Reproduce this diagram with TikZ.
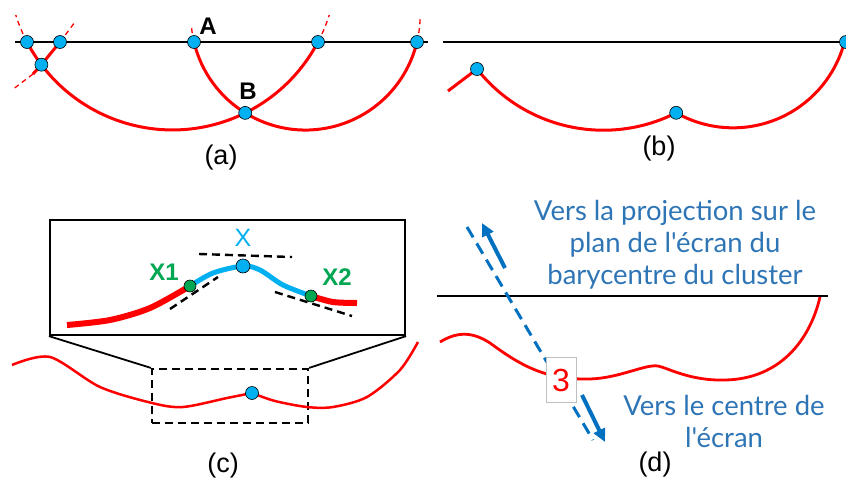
\documentclass[tikz,border=0pt]{standalone}
\usepackage{fontspec}
\setmainfont{Liberation Sans}
\newfontfamily\notefont{Lato}
\usetikzlibrary{arrows.meta}

\definecolor{dotblue}{RGB}{0,176,240}
\definecolor{dotgreen}{RGB}{0,166,81}
\definecolor{arrowblue}{RGB}{0,112,192}
\definecolor{noteblue}{RGB}{46,117,182}

\tikzset{
    dot/.style={circle, draw=black, line width=0.6pt, fill=dotblue,
      inner sep=0pt, minimum size=13pt},
    gdot/.style={dot, fill=dotgreen, minimum size=12pt},
    curve/.style={draw=red, line width=3pt},
    ghost/.style={draw=red, line width=1.3pt, dash pattern=on 5pt off 4pt},
    screen/.style={draw=black, line width=2.2pt},
    tangent/.style={draw=black, line width=2.4pt, dash pattern=on 8pt off 5pt},
    caption/.style={font=\fontsize{27}{30}\selectfont},
    tag/.style={font=\bfseries\fontsize{24}{24}\selectfont},
    note/.style={text=noteblue, align=center,
      font=\notefont\fontsize{27.5}{32}\selectfont},
    dir/.style={draw=arrowblue, line width=4pt,
      -{Triangle[length=13pt,width=12pt]}}
  }

\begin{document}
\begin{tikzpicture}[x=1pt,y=-1pt]
    \useasboundingbox (0,0) rectangle (846,482);

    % (a) two arcs on the screen line
    \coordinate (p1) at (27,42);
    \coordinate (p2) at (60,42);
    \coordinate (p3) at (41.4,64.7);
    \coordinate (A) at (194,42);
    \coordinate (p4) at (318,42);
    \coordinate (p5) at (417,42);
    \coordinate (B) at (245.2,112.9);

    \draw[screen] (15,42) coordinate (s1) -- (428,42) coordinate (s2);
    \draw[curve] (p1) arc[start angle=152.3, end angle=27.7, radius=164.3];
    \draw[ghost] (p1) arc[start angle=152.3, end angle=162.5, radius=164.3];
    \draw[ghost] (p4) arc[start angle=27.7, end angle=17.5, radius=164.3];
    \draw[curve] (A) arc[start angle=166.6, end angle=13.4, radius=114.6];
    \draw[ghost] (A) arc[start angle=166.6, end angle=175.2, radius=114.6];
    \draw[ghost] (p5) arc[start angle=13.4, end angle=0, radius=114.6];
    \draw[curve] (p2) -- (p3) -- (33,74) coordinate (p6);
    \draw[ghost] (p6) -- (12,90);
    \draw[ghost] (p2) -- (75,22);

    \foreach \p in {p1,p2,p3,A,p4,p5,B} {
      \node[dot] (d\p) at (\p) {};
    }
    \node[tag] (lA) at (208,26) {A};
    \node[tag] (lB) at (248,91) {B};
    \node[caption] (ca) at (221,158) {(a)};

    % (b) the kept path
    \draw[screen] (443,42) -- (846,42);
    \draw[curve] (448,91) -- (477,69) coordinate (q1)
      arc[start angle=141.7, end angle=63.1, radius=161] coordinate (q2)
      arc[start angle=119.6, end angle=13.7, radius=115.2] coordinate (q3);
    \foreach \q in {q1,q2} {
      \node[dot] (d\q) at (\q) {};
    }
    \node[dot] (dq3) at (846,42) {};
    \node[caption] (cb) at (659,149) {(b)};

    % (c) zoom on a local maximum
    \node[screen, minimum width=355pt, minimum height=115pt] (zoom) at (227.5,277.5) {};
    \node[screen, dash pattern=on 8pt off 5pt, minimum width=156pt,
      minimum height=54pt] (window) at (230,396) {};
    \draw[line width=1.8pt] (zoom.south west) -- (window.north west);
    \draw[line width=1.8pt] (zoom.south east) -- (window.north east);

    \coordinate (m) at (252,393);
    \draw[draw=red, line width=2.5pt] plot[smooth] coordinates {(12,365) (50,357)
      (100,387) (152,403) (183,407) (227,398) (m)};
    \draw[draw=red, line width=2.5pt] plot[smooth] coordinates {(m) (275,401)
      (307,407) (333,407) (367,397) (400,370) (418,342)};
    \node[dot] (dm) at (m) {};

    \coordinate (x1) at (190,286);
    \coordinate (x) at (243,266);
    \coordinate (x2) at (311,296);
    \draw[draw=red, line width=6pt] plot[smooth] coordinates {(67,325) (110,320)
      (150,308) (x1)};
    \draw[draw=dotblue, line width=5pt] plot[smooth] coordinates {(x1) (213,273)
      (x) (260,270) (283,285) (x2)};
    \draw[draw=red, line width=6pt] plot[smooth] coordinates {(x2) (333,302)
      (357,303)};
    \draw[tangent] (170,309) coordinate (t1) -- (218,277) coordinate (t2);
    \draw[tangent] (199,254) coordinate (t3) -- (292,257) coordinate (t4);
    \draw[tangent] (275,292) coordinate (t5) -- (352,316) coordinate (t6);
    \node[gdot] (dx1) at (x1) {};
    \node[dot, minimum size=14pt] (dx) at (x) {};
    \node[gdot] (dx2) at (x2) {};
    \node[text=dotblue, font=\fontsize{25}{25}\selectfont] (lx) at (243,238) {X};
    \node[tag, text=dotgreen] (lx1) at (164,272) {X1};
    \node[tag, text=dotgreen] (lx2) at (337,277) {X2};
    \node[caption] (cc) at (223,466) {(c)};

    % (d) ambiguous direction
    \draw[screen] (437,296) -- (828,296);
    \draw[draw=red, line width=2.8pt] (440,342) .. controls (455,333) and (470,330) .. (490,343)
      .. controls (520,365) and (545,380) .. (590,379)
      .. controls (620,378) and (645,364) .. (658,366)
      .. controls (668,368) and (690,381) .. (725,380)
      .. controls (780,379) and (810,340) .. (820,297);
    \draw[draw=arrowblue, line width=3pt, dash pattern=on 12pt off 7pt]
      (467,227) coordinate (u1) -- (593,440) coordinate (u2);
    \draw[dir] (505,268) coordinate (r1) -- (482,223) coordinate (r2);
    \draw[dir] (582,395) coordinate (r3) -- (605,442) coordinate (r4);
    \node[draw=black!25, line width=1pt, fill=white, minimum width=30pt,
      minimum height=45pt, inner sep=0pt, text=red,
      font=\fontsize{32}{32}\selectfont] (three) at (561,380) {3};

    \node[note] (up) at (675,245) {Vers la projection sur le\\plan de l'écran du\\barycentre du cluster};
    \node[note] (down) at (724,421) {Vers le centre de\\l'écran};
    \node[caption] (cd) at (655,465) {(d)};

  \end{tikzpicture}
\end{document}
